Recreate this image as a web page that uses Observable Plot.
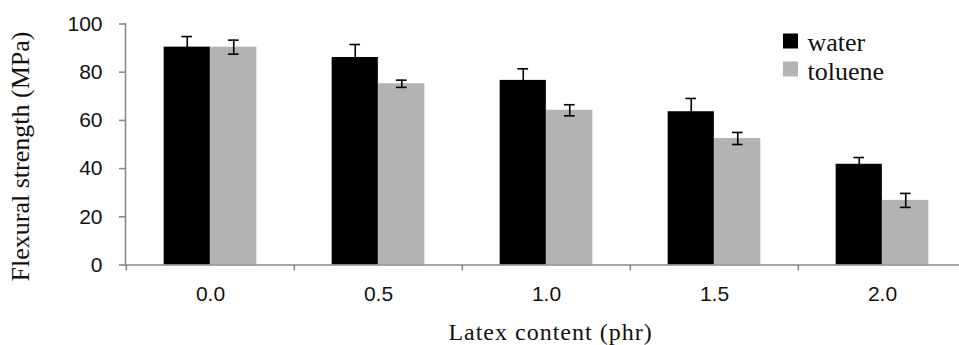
<!DOCTYPE html>
<html>
<head>
<meta charset="utf-8">
<script src="https://cdn.jsdelivr.net/npm/d3@7"></script>
<script src="https://cdn.jsdelivr.net/npm/@observablehq/plot@0.6"></script>
<style>
  html, body { margin: 0; padding: 0; background: #fff; overflow: hidden; }
  #wrap { position: relative; width: 959px; height: 345px; overflow: hidden; }
  #wrap svg { position: absolute; left: 0; top: 0; }
</style>
</head>
<body>
<div id="wrap"></div>
<script>
// ---- data ----
const latex = ["0.0", "0.5", "1.0", "1.5", "2.0"];
const solvents = ["water", "toluene"];
const waterMean = [90.4, 86.1, 76.6, 63.6, 41.8];
const waterErr = [4.4, 5.4, 4.8, 5.5, 2.8];
const tolueneMean = [90.4, 75.2, 64.2, 52.5, 26.8];
const tolueneErr = [2.9, 1.5, 2.3, 2.5, 2.9];
const yTicks = [0, 20, 40, 60, 80, 100];
const yTitle = "Flexural strength (MPa)";
const xTitle = "Latex content (phr)";
const colors = { water: "#000000", toluene: "#b3b3b3" };

const water = latex.map((c, i) => ({ latex: c, solvent: "water", v: waterMean[i], e: waterErr[i] }));
const toluene = latex.map((c, i) => ({ latex: c, solvent: "toluene", v: tolueneMean[i], e: tolueneErr[i] }));

// layout (pixels)
const x0 = 125, band = 168.3, barW = 46.5;
const gap = (band - 2 * barW) / 2;
const capW = 11;
const capInset = (band - capW) / 2;
const half = barW / 2;

const errStyle = { stroke: "#000", strokeWidth: 1.6 };
const serif = "'Liberation Serif', 'Times New Roman', serif";
const axisGray = "#8a8a8a";

const legendMarks = solvents.flatMap((s, i) => [
  Plot.dot([s], { frameAnchor: "top-left", dx: 665, dy: 17 + i * 28, symbol: "square", r: 8.46, fill: colors[s], stroke: null }),
  Plot.text([s], { frameAnchor: "top-left", dx: 682, dy: 18.5 + i * 29, text: d => d, textAnchor: "start", lineAnchor: "middle",
    fontFamily: serif, fontSize: 26, fill: "#111" })
]);

const chart = Plot.plot({
  width: 959,
  height: 345,
  marginTop: 23.5,
  marginBottom: 80.5,
  marginLeft: x0,
  marginRight: 0,
  style: { fontFamily: "'Liberation Sans', Arial, sans-serif", fontSize: "21px", color: "#111", background: "transparent", overflow: "visible" },
  x: { type: "band", domain: latex, range: [x0, x0 + band * latex.length], paddingInner: 0, paddingOuter: 0 },
  y: { domain: [0, 100], range: [264.5, 23.5] },
  marks: [
    Plot.barY(water, { x: "latex", y: "v", fill: colors.water, insetLeft: gap, insetRight: gap + barW }),
    Plot.barY(toluene, { x: "latex", y: "v", fill: colors.toluene, insetLeft: gap + barW, insetRight: gap }),
    Plot.ruleX(water, { x: "latex", y1: d => d.v - d.e, y2: d => d.v + d.e, dx: -half, ...errStyle }),
    Plot.ruleX(toluene, { x: "latex", y1: d => d.v - d.e, y2: d => d.v + d.e, dx: half, ...errStyle }),
    Plot.tickY(water, { x: "latex", y: d => d.v + d.e, dx: -half, insetLeft: capInset, insetRight: capInset, ...errStyle }),
    Plot.tickY(water, { x: "latex", y: d => d.v - d.e, dx: -half, insetLeft: capInset, insetRight: capInset, ...errStyle }),
    Plot.tickY(toluene, { x: "latex", y: d => d.v + d.e, dx: half, insetLeft: capInset, insetRight: capInset, ...errStyle }),
    Plot.tickY(toluene, { x: "latex", y: d => d.v - d.e, dx: half, insetLeft: capInset, insetRight: capInset, ...errStyle }),
    Plot.frame({ anchor: "left", stroke: axisGray, strokeWidth: 1.6 }),
    Plot.frame({ anchor: "bottom", stroke: axisGray, strokeWidth: 1.6 }),
    Plot.axisY({ ticks: yTicks, tickSize: 6, tickPadding: 17, stroke: axisGray, strokeWidth: 1.6, fill: "#111", label: null }),
    Plot.axisX({ tickSize: 6, tickFormat: () => "", dx: -band / 2, stroke: axisGray, strokeWidth: 1.6, label: null }),
    Plot.axisX({ tickSize: 0, tickPadding: 21, fill: "#111", fontSize: 21, label: null }),
    Plot.text([yTitle], { frameAnchor: "left", dx: -105, dy: 12, rotate: -90, text: d => d, textAnchor: "middle", lineAnchor: "middle",
      fontFamily: serif, fontSize: 26, fill: "#111" }),
    Plot.text([xTitle], { frameAnchor: "bottom", dx: 8, dy: 67, text: d => d, textAnchor: "middle", lineAnchor: "middle",
      fontFamily: serif, fontSize: 24, fill: "#111" }),
    ...legendMarks
  ]
});
// letter spacing for the x title (horizontally wide serif in the reference)
d3.select(chart).selectAll("text").filter(function () { return this.textContent === xTitle; })
  .style("letter-spacing", "1px");
document.getElementById("wrap").appendChild(chart);
</script>
</body>
</html>
